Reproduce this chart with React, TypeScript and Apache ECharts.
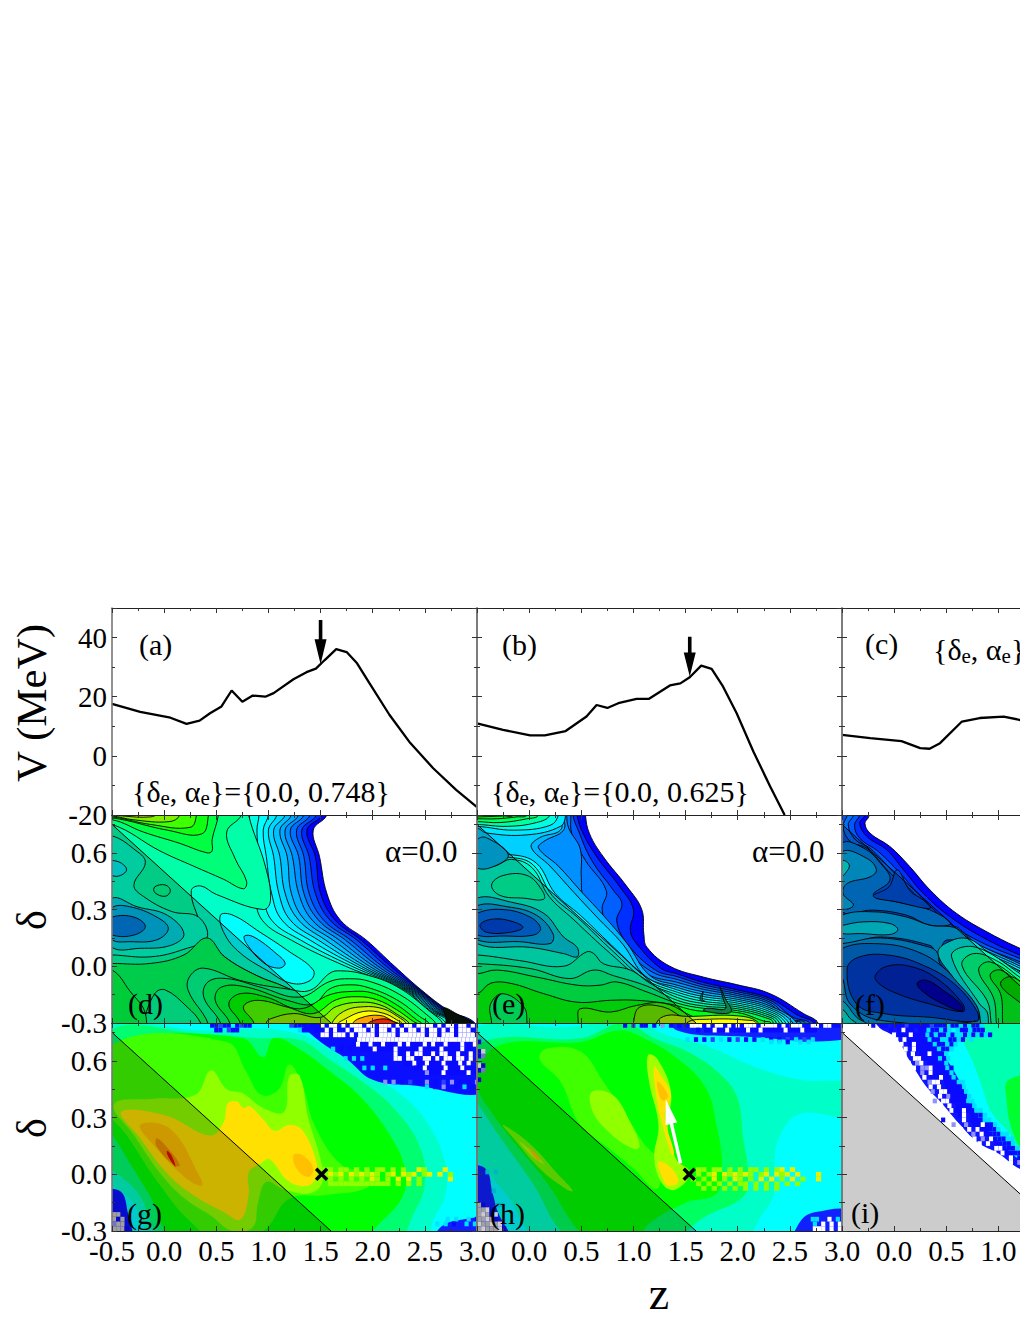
import React, { useEffect, useRef } from "react";
import * as echarts from "echarts";

const FONT = '"Liberation Serif"';
const zTicks = { min: -0.5, max: 3, interval: 0.5 };
const vTicks = { min: -20, max: 50, interval: 20 };
const dTicks = { min: -0.3, max: 0.8, interval: 0.3 };

// (a)-(c) V(z) curves [z, V]
const curveA = [[-0.5,17.6],[-0.23,14.9],[0.06,12.9],[0.215,10.8],[0.34,11.9],[0.44,14.4],[0.55,16.7],[0.647,22.1],[0.75,18.3],[0.85,20.4],[0.97,20],[1.05,21.2],[1.24,25.9],[1.365,28.3],[1.455,29.5],[1.54,32.4],[1.65,36.1],[1.75,35.1],[1.85,31.3],[1.97,24.5],[2.16,13.9],[2.35,4.8],[2.58,-4.2],[2.8,-11.5],[3,-17.3]];
const curveB = [[-0.5,11],[-0.25,8.8],[0.01,6.9],[0.15,6.9],[0.35,8.4],[0.55,13.3],[0.647,17.2],[0.75,16.2],[0.855,17.8],[1.03,19.3],[1.15,19.3],[1.35,23.8],[1.45,24.5],[1.54,26.6],[1.65,30.5],[1.75,29.4],[1.86,23.4],[1.99,14.4],[2.15,1.5],[2.31,-10.3],[2.45,-20]];
const curveC = [[-0.5,7.1],[-0.23,6],[0.07,5],[0.25,2.6],[0.34,2.4],[0.44,4.3],[0.65,11.6],[0.82,12.8],[1.05,13.3],[1.2,12.2],[1.4,10]];
// arrows: z, V top of shaft, V tip
const arrowA = [1.5, 45.9, 31];
const arrowB = [1.54, 40.3, 26.8];
// white arrow in (h): tail z, tail delta, tip z, tip delta
const arrowH = [1.452, 0.058, 1.31, 0.396];
const crossG = [1.51, 0];
const crossH = [1.535, 0];
// line delta = 0.5 - 0.5 z, ends
const diagonal = [-0.5, 0.75, 1.6, -0.3];

// ---- panel (d) ----
const dBandDeltas = [0.8,0.72,0.58,0.386,0.244,0.138,0,-0.127,-0.234,-0.3];
const dBandColors = ["#0000ff","#0028ff","#0050ff","#0070ff","#0090ff","#00a8ff","#00c0ff","#00d8ff","#00f0ff","#00ffff","#00ffe0","#00ffc8"];
const dBands = [
  [1.56,1.43,1.49,1.56,1.69,1.94,2.21,2.47,2.73,2.98],
  [1.51,1.37,1.45,1.5,1.64,1.89,2.17,2.455,2.71,2.95],
  [1.46,1.32,1.39,1.45,1.59,1.85,2.13,2.44,2.69,2.93],
  [1.4,1.27,1.34,1.39,1.53,1.79,2.09,2.425,2.675,2.91],
  [1.34,1.21,1.29,1.34,1.48,1.74,2.05,2.41,2.655,2.88],
  [1.29,1.16,1.23,1.29,1.42,1.68,2.01,2.395,2.64,2.86],
  [1.22,1.11,1.18,1.22,1.35,1.62,1.97,2.38,2.62,2.84],
  [1.16,1.05,1.11,1.16,1.29,1.55,1.93,2.365,2.6,2.82],
  [1.08,1,1.05,1.1,1.21,1.48,1.89,2.35,2.585,2.8],
  [1,0.95,0.98,1.03,1.13,1.4,1.85,2.335,2.57,2.78],
  [0.91,0.89,0.91,0.95,1.03,1.31,1.8,2.32,2.55,2.75],
  [0.82,0.81,0.84,0.87,0.94,1.22,1.74,2.305,2.535,2.7],
];
const dBody = [0.81,0.9,0.81,0.8,0.97,0.53,1.02,0.35,0.95,0.3,0.5,0.38,0.35,0.425,0.26,0.4,0.33,0.25,0.41,0.15,0.58,0.05,0.89,-0.05,1.16,-0.11,1.37,-0.18,1.46,-0.36,-0.7,-0.36,-0.7,0.9];
const dTopHill = [
  ["#00ff78",[0.74,0.8,0.6,0.71,0.68,0.57,0.79,0.45,0.76,0.41,0.57,0.46,0.28,0.53,-0.04,0.61,-0.5,0.75]],
  ["#00ff40",[0.52,0.8,0.46,0.67,0.46,0.61,0.41,0.6,0.15,0.65,-0.2,0.71,-0.5,0.775]],
  ["#10ff10",[0.425,0.8,0.36,0.7,0.03,0.72,-0.5,0.785]],
  ["#40ff00",[0.31,0.8,0.25,0.735,-0.13,0.75,-0.5,0.79]],
  ["#80f000",[0.15,0.8,0.05,0.765,-0.3,0.775,-0.5,0.795]],
  ["#b0d800",[-0.07,0.81,-0.13,0.79,-0.4,0.795,-0.6,0.81]],
];
const dLeft = [
  ["#00ffc8",[-0.5,0.69,-0.29,0.62,-0.18,0.55,-0.29,0.43,-0.2,0.37,0.07,0.29,0.33,0.26,0.41,0.15,0.19,0.09,-0.13,0.05,-0.5,0.06,-0.7,0.06,-0.7,0.69]],
  ["#00ff90",[-0.09,0.42,0.01,0.43,0.06,0.4,0.01,0.37,-0.09,0.39]],
  ["#00f0f0",[-0.6,0.56,-0.5,0.56,-0.41,0.545,-0.36,0.51,-0.42,0.48,-0.5,0.48,-0.6,0.52]],
  ["#00d8e0",[-0.5,0.36,-0.26,0.315,0.03,0.27,0.19,0.17,0.06,0.11,-0.23,0.095,-0.5,0.1,-0.6,0.23]],
  ["#00b8e8",[-0.5,0.31,-0.33,0.315,-0.07,0.26,0.04,0.2,-0.07,0.14,-0.33,0.13,-0.5,0.14,-0.6,0.22]],
  ["#0080e0",[-0.5,0.26,-0.29,0.26,-0.18,0.21,-0.29,0.165,-0.5,0.165,-0.6,0.21]],
];
const dValley = [
  ["#00ffff",[0.54,0.27,0.66,0.27,0.92,0.18,1.18,0.085,1.43,-0.02,1.4,-0.075,1.22,-0.09,0.98,-0.02,0.73,0.07,0.58,0.17]],
  ["#00d0ff",[0.77,0.16,0.86,0.155,1.08,0.065,1.16,0.015,1.1,-0.01,0.95,0.02,0.79,0.12]],
];
const dBottom = [
  ["#00ff60",[-0.5,0.015,-0.13,0.015,0.19,0.06,0.41,0.15,0.58,0.05,0.89,-0.05,1.16,-0.11,1.37,-0.18,1.46,-0.36,-0.7,-0.36,-0.7,0.015]],
  ["#00ff98",[-0.2,-0.36,-0.2,-0.3,-0.09,-0.145,0.01,-0.125,0.22,-0.215,0.35,-0.3,0.35,-0.36]],
  ["#00ff48",[-0.5,-0.02,-0.33,-0.13,-0.18,-0.25,-0.22,-0.36,-0.7,-0.36,-0.7,-0.02]],
];
const dHills = [
  ["#00ff90",[0.42,-0.3,0.23,-0.127,0.25,-0.05,0.38,-0.01,0.73,-0.075,1.18,-0.12,1.4,-0.127,1.59,-0.036,1.69,-0.024,1.91,-0.041,2.23,-0.107,2.55,-0.239,2.68,-0.31]],
  ["#00ff60",[0.54,-0.3,0.38,-0.163,0.42,-0.083,0.6,-0.065,0.92,-0.11,1.3,-0.163,1.59,-0.08,1.78,-0.066,1.97,-0.08,2.26,-0.15,2.52,-0.257,2.61,-0.31]],
  ["#00ff38",[0.63,-0.3,0.49,-0.18,0.55,-0.11,0.79,-0.11,1.18,-0.18,1.43,-0.2,1.59,-0.119,1.78,-0.098,1.97,-0.115,2.23,-0.177,2.45,-0.266,2.55,-0.31]],
  ["#00ff00",[0.73,-0.3,0.62,-0.2,0.73,-0.145,0.98,-0.163,1.3,-0.225,1.59,-0.15,1.81,-0.133,2,-0.142,2.23,-0.204,2.42,-0.283,2.48,-0.31]],
  ["#50ff00",[0.86,-0.3,0.76,-0.216,0.89,-0.18,1.18,-0.216,1.43,-0.25,1.65,-0.177,1.85,-0.161,2.04,-0.177,2.23,-0.23,2.39,-0.292,2.44,-0.31]],
  ["#90f000",[0.98,-0.3,1.02,-0.278,1.24,-0.25,1.5,-0.27,1.65,-0.213,1.88,-0.19,2.07,-0.204,2.23,-0.253,2.36,-0.31]],
  ["#d0f000",[1.6,-0.31,1.72,-0.239,1.91,-0.214,2.1,-0.225,2.24,-0.266,2.33,-0.31]],
  ["#ffff00",[1.66,-0.31,1.72,-0.283,1.91,-0.239,2.1,-0.248,2.23,-0.283,2.29,-0.31]],
  ["#ffa000",[1.8,-0.31,1.88,-0.274,2.07,-0.26,2.2,-0.292,2.26,-0.31]],
  ["#f02000",[1.94,-0.31,2.1,-0.278,2.23,-0.3,2.26,-0.31]],
];
const dTip = [
  ["#061008",[2.68,-0.22,2.8,-0.25,2.97,-0.31,2.72,-0.32,2.7,-0.27]],
];

// ---- panel (e) ----
const eBands = [
  ["#0000ff",[0.54,0.8,0.58,0.7,0.71,0.58,0.94,0.42,1.08,0.3,1.1,0.17,1.13,0.1,1.35,0,1.67,-0.057,1.99,-0.097,2.31,-0.145,2.63,-0.25,2.77,-0.3]],
  ["#0030ff",[0.46,0.8,0.52,0.7,0.66,0.57,0.87,0.42,1,0.3,0.97,0.19,1.03,0.12,1.26,-0.01,1.42,-0.04,1.67,-0.085,2,-0.125,2.31,-0.17,2.58,-0.26,2.73,-0.3]],
  ["#0060ff",[0.42,0.8,0.47,0.72,0.6,0.56,0.81,0.4,0.89,0.33,0.84,0.24,0.94,0.12,1.21,-0.02,1.42,-0.055,1.67,-0.098,2,-0.135,2.31,-0.18,2.53,-0.27,2.69,-0.3]],
  ["#0078ff",[0.4,0.8,0.41,0.7,0.54,0.56,0.74,0.4,0.7,0.3,0.78,0.17,0.89,0.1,1.18,-0.03,1.42,-0.07,1.67,-0.11,2,-0.145,2.31,-0.19,2.5,-0.278,2.65,-0.3]],
  ["#0090ff",[0.36,0.8,0.38,0.73,0.49,0.62,0.5,0.47,0.52,0.37,0.68,0.235,0.86,0.1,1.13,-0.04,1.42,-0.085,1.67,-0.122,2,-0.155,2.31,-0.2,2.47,-0.287,2.61,-0.3]],
  ["#00b4ff",[0.33,0.8,0.33,0.72,0.14,0.66,0.09,0.625,0.28,0.53,0.5,0.395,0.71,0.27,0.94,0.12,1.16,-0.05,1.42,-0.1,1.67,-0.135,2,-0.165,2.31,-0.21,2.57,-0.3]],
  ["#00d0ff",[0.31,0.8,0.3,0.72,0.1,0.68,0.02,0.63,0.2,0.53,0.43,0.39,0.65,0.26,0.9,0.115,1.12,-0.055,1.42,-0.112,1.67,-0.148,2,-0.175,2.31,-0.22,2.53,-0.3]],
];
const eBody = [
  ["#00ffff",[-0.18,0.59,0.07,0.545,0.25,0.385,0.49,0.27,0.84,0.085,1.13,-0.06,1.42,-0.125,1.67,-0.16,2,-0.185,2.31,-0.23,2.49,-0.3]],
  ["#00ffe0",[-0.17,0.575,0.04,0.535,0.22,0.375,0.46,0.26,0.81,0.076,1.11,-0.068,1.42,-0.137,1.67,-0.172,2,-0.195,2.31,-0.24,2.46,-0.3]],
  ["#00f8c8",[-0.5,0.52,-0.33,0.53,-0.17,0.565,0.03,0.52,0.19,0.37,0.42,0.25,0.78,0.067,1.1,-0.076,1.42,-0.15,1.67,-0.185,2,-0.205,2.31,-0.25,2.43,-0.3]],
  ["#00f8a8",[-0.5,0.06,-0.09,0.03,0.33,0,0.55,0.076,0.62,0.067,0.71,0.014,0.97,-0.02,1.16,-0.09,1.42,-0.165,1.67,-0.197,2,-0.215,2.31,-0.26,2.4,-0.3]],
  ["#00f880",[-0.5,0.014,0.01,-0.012,0.39,-0.065,0.62,-0.02,0.81,-0.05,1.13,-0.105,1.42,-0.18,1.67,-0.21,2,-0.225,2.31,-0.27,2.37,-0.3]],
  ["#00ff50",[-0.5,-0.04,-0.31,-0.02,0.07,-0.057,0.46,-0.1,0.68,-0.1,0.84,-0.083,1.13,-0.136,1.42,-0.195,1.67,-0.222,2,-0.235,2.31,-0.28,2.34,-0.3]],
  ["#00ff10",[-0.5,-0.145,-0.37,-0.09,-0.18,-0.09,0.14,-0.145,0.46,-0.19,0.78,-0.18,1.03,-0.18,1.35,-0.2,1.61,-0.235,2,-0.245,2.25,-0.29,2.32,-0.3]],
];
const eIslands = [
  ["#00b8f0",[-0.5,0.67,-0.41,0.68,-0.2,0.59,-0.33,0.53,-0.5,0.52,-0.6,0.6]],
  ["#00ffa8",[-0.36,0.43,-0.25,0.48,-0.02,0.48,0.12,0.405,0.14,0.355,-0.05,0.36,-0.28,0.375]],
  ["#00c8d8",[-0.5,0.36,-0.18,0.34,0.14,0.28,0.33,0.155,0.46,0.1,0.46,0.05,0.33,0.067,0.01,0.1,-0.5,0.12,-0.6,0.25]],
  ["#00a0e0",[-0.5,0.32,-0.21,0.315,0.07,0.27,0.23,0.17,0.2,0.12,-0.09,0.13,-0.5,0.14,-0.6,0.23]],
  ["#0070e8",[-0.5,0.28,-0.25,0.3,0.01,0.26,0.11,0.2,0.04,0.165,-0.25,0.16,-0.5,0.165,-0.6,0.22]],
  ["#0048d8",[-0.47,0.22,-0.34,0.25,-0.15,0.235,-0.06,0.205,-0.18,0.18,-0.41,0.18]],
  ["#00ff68",[-0.36,-0.36,-0.36,-0.3,-0.37,-0.2,-0.25,-0.145,-0.05,-0.216,-0.02,-0.3,-0.02,-0.36]],
  ["#108048",[1.67,-0.235,1.88,-0.25,1.94,-0.235,1.88,-0.17,1.83,-0.11,1.86,-0.17,1.88,-0.225,1.7,-0.222]],
  ["#008870",[1.67,-0.133,1.64,-0.177,1.69,-0.186,1.66,-0.175]],
];
const eTopStripes = [
  ["#00e8ff",[0.35,0.8,0.3,0.74,-0.02,0.695,-0.41,0.705,-0.5,0.73]],
  ["#00ffe0",[0.28,0.8,0.2,0.745,-0.15,0.72,-0.5,0.74]],
  ["#00ffa0",[0.2,0.8,0.07,0.76,-0.21,0.74,-0.5,0.75]],
  ["#00ff60",[0.09,0.8,-0.02,0.78,-0.28,0.76,-0.5,0.765]],
  ["#00ff20",[-0.02,0.8,-0.12,0.79,-0.31,0.78,-0.5,0.78]],
  ["#60ff00",[-0.15,0.8,-0.25,0.795,-0.5,0.79]],
];
const eHills = [
  ["#30ff00",[0.47,-0.3,0.49,-0.225,0.78,-0.242,1.03,-0.207,1.29,-0.195,1.51,-0.25,1.64,-0.3]],
  ["#70e800",[1,-0.3,1.06,-0.216,1.29,-0.216,1.48,-0.27,1.73,-0.3]],
  ["#b0f000",[1.22,-0.3,1.32,-0.26,1.51,-0.265,2,-0.262,2.2,-0.3]],
  ["#ffff00",[1.51,-0.3,1.73,-0.28,2.09,-0.285,2.18,-0.3]],
];

// ---- panel (f) ----
const fBands = [
  ["#0000ff",[-0.22,0.9,-0.24,0.795,-0.28,0.756,-0.23,0.703,-0.04,0.633,0.15,0.527,0.345,0.403,0.6,0.279,0.92,0.173,1.21,0.094,1.6,0,2.1,-0.15,2.6,-0.3]],
  ["#0030ff",[-0.28,0.9,-0.28,0.8,-0.33,0.756,-0.26,0.686,-0.07,0.615,0.09,0.51,0.28,0.385,0.54,0.26,0.86,0.15,1.21,0.058,1.6,-0.03,2.1,-0.18,2.55,-0.3]],
  ["#0058ff",[-0.33,0.9,-0.33,0.8,-0.38,0.747,-0.33,0.677,-0.15,0.606,0.06,0.49,0.23,0.385,0.49,0.244,0.81,0.134,1.21,0.04,1.6,-0.05,2.1,-0.2,2.5,-0.3]],
  ["#0070f8",[-0.39,0.9,-0.39,0.8,-0.44,0.747,-0.37,0.668,-0.23,0.624,-0.01,0.5,0.19,0.385,0.44,0.235,0.76,0.124,1.21,0.023,1.6,-0.07,2.1,-0.22,2.45,-0.3]],
];
const fWedges = [
  ["#00a8ff",[0.55,0.2,0.8,0.118,1.21,0.012,1.7,-0.12,2.4,-0.36,0.3,-0.36]],
  ["#00ccff",[0.6,0.16,0.85,0.09,1.21,0,1.7,-0.14,2.3,-0.36,0.4,-0.36]],
  ["#00f0ff",[0.65,0.13,0.88,0.07,1.21,-0.012,1.7,-0.16,2.2,-0.36,0.5,-0.36]],
  ["#00ffd8",[0.7,0.11,0.9,0.05,1.21,-0.025,1.7,-0.18,2.1,-0.36,0.6,-0.36]],
];
const fBody = [-0.45,0.9,-0.45,0.8,-0.49,0.74,-0.42,0.66,-0.26,0.624,-0.05,0.5,0.15,0.394,0.38,0.253,0.62,0.173,0.6,0.17,0.5,-0.36,-0.7,-0.36,-0.7,0.9];
const fValleys = [
  ["#0080e0",[-0.5,0.65,-0.29,0.624,-0.13,0.544,-0.04,0.456,-0.2,0.376,0.03,0.34,0.345,0.297,0.54,0.226,0.345,0.217,0.12,0.27,-0.2,0.297,-0.5,0.288,-0.6,0.45]],
  ["#00a8e8",[-0.5,0.606,-0.26,0.57,-0.17,0.51,-0.23,0.473,-0.45,0.438,-0.49,0.385,-0.39,0.323,-0.5,0.306,-0.6,0.45]],
  ["#00e8e0",[-0.5,0.56,-0.43,0.535,-0.47,0.49,-0.5,0.48,-0.6,0.52]],
  ["#0050d8",[-0.2,0.37,-0.05,0.42,0.03,0.51,0.15,0.4,0.28,0.35,0.345,0.306,0.03,0.34]],
  ["#00a0e0",[-0.5,0.27,-0.2,0.288,0.12,0.26,0.345,0.217,0.6,0.2,0.73,0.12,0.5,0.138,0.42,0.067,0.345,0.11,-0.13,0.155,-0.5,0.12,-0.6,0.2]],
  ["#00d0e0",[-0.49,0.217,-0.29,0.235,-0.04,0.226,0.035,0.194,-0.04,0.168,-0.33,0.173,-0.5,0.173,-0.6,0.2]],
  ["#0090d8",[-0.5,0.12,-0.13,0.15,0.345,0.1,0.42,0.067,0.44,0.014,0.82,-0.216,0.89,-0.3,0.9,-0.36,-0.7,-0.36,-0.7,0.12]],
  ["#0070d0",[-0.5,0.094,-0.2,0.12,0.185,0.085,0.5,-0.02,0.79,-0.207,0.79,-0.29,-0.13,-0.286,-0.42,-0.2,-0.5,-0.057,-0.6,0.02]],
  ["#0040c8",[-0.45,-0.012,-0.33,0.05,-0.04,0.058,0.28,0.005,0.57,-0.09,0.79,-0.233,0.79,-0.29,0.345,-0.27,-0.1,-0.25,-0.36,-0.2]],
  ["#0028b8",[-0.18,-0.048,-0.07,0,0.15,0,0.41,-0.065,0.66,-0.2,0.66,-0.24,0.345,-0.2,0.03,-0.145,-0.15,-0.09]],
  ["#0000b0",[0.22,-0.09,0.31,-0.074,0.47,-0.127,0.65,-0.207,0.65,-0.237,0.47,-0.2,0.28,-0.136]],
  ["#00b8d0",[-0.5,-0.18,-0.36,-0.27,-0.26,-0.31,-0.6,-0.36,-0.6,-0.18]],
  ["#00e0c8",[-0.5,-0.233,-0.42,-0.277,-0.36,-0.31,-0.6,-0.36]],
];
const fHills = [
  ["#00e0d8",[0.42,0.067,0.49,0.12,0.7,0.147,0.92,0.067,1.21,-0.03,1.7,-0.19,2.05,-0.36,0.9,-0.36,0.79,-0.207,0.54,-0.04]],
  ["#00ffb8",[0.55,0.05,0.66,0.102,0.86,0.085,1.21,-0.04,1.7,-0.21,2,-0.36,0.95,-0.36,0.89,-0.24,0.82,-0.2]],
  ["#00ff88",[0.65,0.005,0.76,0.067,0.98,0.03,1.21,-0.06,1.7,-0.24,1.9,-0.36,1,-0.36,0.89,-0.18]],
  ["#00ff50",[0.81,-0.02,0.92,0.023,1.21,-0.08,1.6,-0.26,1.8,-0.36,1.05,-0.36,0.95,-0.163]],
  ["#00f020",[0.92,-0.048,1.02,-0.02,1.21,-0.1,1.5,-0.26,1.65,-0.36,1.1,-0.36,1.02,-0.145]],
  ["#00d800",[1.02,-0.09,1.13,-0.056,1.3,-0.14,1.4,-0.25,1.13,-0.16]],
];

// ---- panel (g) smooth colour regions ----
const gLayers = [
  ["#00ffff",[-1,1,4,1,4,-1,-1,-1]],
  ["#00ffc8",[-0.6,0.76,0.4,0.76,0.95,0.77,1.3,0.74,1.6,0.66,1.95,0.53,2.3,0.41,2.55,0.25,2.7,0.05,2.7,-0.1,2.6,-0.22,2.45,-0.36,-0.05,-0.36,-0.3,-0.15,-0.6,0.03]],
  ["#00ff70",[-0.55,0.74,0.4,0.74,0.9,0.72,1.3,0.71,1.58,0.61,1.9,0.49,2.2,0.35,2.45,0.15,2.5,-0.05,2.4,-0.2,2.2,-0.36,0.05,-0.36,-0.25,-0.1,-0.6,0.12]],
  ["#00ff00",[-0.35,0.72,0.75,0.72,0.95,0.62,1.05,0.72,1.3,0.66,1.6,0.54,1.9,0.4,2.15,0.22,2.3,0.05,2.3,-0.1,2.1,-0.24,1.8,-0.36,0.15,-0.36,-0.15,-0.1,-0.45,0.17,-0.6,0.3,-0.55,0.6]],
  ["#40ff00",[-0.45,0.7,0.6,0.7,0.78,0.55,0.93,0.42,1.1,0.45,1.2,0.58,1.32,0.48,1.45,0.25,1.7,0.05,1.95,0,1.95,-0.07,1.55,-0.11,1.2,-0.13,0.95,-0.3,0.55,-0.36,0.25,-0.25,-0.05,-0.05,-0.35,0.2,-0.6,0.4]],
  ["#90ff00",[-0.48,0.37,-0.1,0.4,0.3,0.42,0.45,0.55,0.6,0.45,0.75,0.43,0.95,0.35,1.15,0.33,1.2,0.52,1.3,0.52,1.38,0.3,1.5,0.08,1.52,-0.04,1.4,-0.1,1.15,-0.08,0.98,-0.04,0.9,-0.15,0.85,-0.28,0.65,-0.3,0.45,-0.22,0.2,-0.13,-0.03,0,-0.28,0.2]],
  ["#ffe000",[-0.41,0.33,0.02,0.31,0.44,0.205,0.57,0.275,0.61,0.375,0.7,0.385,0.76,0.35,0.82,0.36,0.95,0.29,1.06,0.23,1.2,0.26,1.33,0.23,1.46,0.065,1.46,-0.01,1.38,-0.06,1.2,-0.04,1.01,0.08,0.92,0.055,0.81,0.01,0.81,-0.11,0.73,-0.24,0.57,-0.2,0.28,-0.11,0.02,0.01,-0.23,0.19]],
  ["#ffc000",[-0.23,0.26,0.06,0.24,0.34,-0.01,0.36,-0.06,0.22,-0.025,-0.07,0.135]],
  ["#ffc000",[1.24,0.1,1.33,0.1,1.43,0.03,1.38,-0.015,1.27,0.03]],
  ["#f09000",[-0.07,0.19,0.04,0.135,0.15,0.05,0.1,0.045,-0.07,0.145]],
  ["#e01000",[0.03,0.125,0.07,0.1,0.11,0.04,0.09,0.05,0.03,0.105]],
  ["#0a10ff",[1.25,0.85,1.3,0.8,1.5,0.7,1.75,0.61,2,0.5,2.4,0.47,3.1,0.45,3.1,0.85]],
  ["#0a10ff",[-0.6,-0.1,-0.42,-0.09,-0.35,-0.2,-0.32,-0.36,-0.6,-0.36]],
  ["#1020ff",[2.6,-0.36,2.65,-0.28,2.85,-0.24,3.1,-0.24,3.1,-0.36]],
];
// noise rows: [delta, first z, cells]; . = nothing, b blue, m mid blue, p pale blue, w white, c cyan, g grey, y yellow, l lime
const gCells = [
  [0.7875,0.44,"bbmbb.bmbb"],[0.7625,0.48,"bb.mbb"],
  [0.7875,1.2,"mbbb.bbb"],[0.7625,1.28,"cbb.bb"],
  [0.7875,1.5,"wbwwbwbwwwbwwbwwwbwbwwbwwwwbwbwwbwwbw"],
  [0.7625,1.5,"bwbwbbwbwwwbwbwwbwbwbwwbwbwwbwbwbwwwb"],
  [0.7375,1.5,"wwbwwwbwbwwwwbwwwwbwwwwwwbwwbwwwbwwww"],
  [0.7125,1.85,"wwwwwwwwwwwwwwwwwwwwwwwwwwwwww"],
  [0.6875,1.8,"bwbbwbbwbbbwbwbbbwbwbbwbbbwbbw"],
  [0.6625,1.6,"c.b.b..bbbwbbbbwbbbbbwbbbbwbbbbwbb"],
  [0.6375,2.2,"wbbwbwwbbwbwwbbwbbw"],[0.6125,2.2,"wwbwwbbwwbwbwwbwwbw"],
  [0.5875,2.3,"bbwbbwbbbwbbbwbw"],[0.5625,2.4,"bbwbbbbwbbbwbbb"],[0.5375,2.5,"pbbbwbbbbbwbb"],
  [0.6125,1.72,"c.c.c"],[0.5625,1.9,"c.c..c"],[0.4875,2.1,"p.p.b.m.b.p.b.m.p.b.b.p.b.m"],[0.4625,2.5,"c.b.p..b.c.b.c"],
  [-0.2125,-0.5,"gg"],[-0.2375,-0.5,"gbg"],[-0.2625,-0.5,"pgg"],[-0.2875,-0.5,"gggb"],
  [-0.2375,2.7,"c.c..c.b.b"],[-0.2625,2.6,"c.c.b..c.c.c..c"],
];
const gChecks = [
  [0.025,1.52,"ll.ll.l.l.ll.l.l..yl...y."],
  [0,1.52,"lyly.ylylyl.ly.yly.ly.y.l"],
  [-0.025,1.52,".l.l.l.l.yl.l.y.y.l.....y"],
  [-0.05,1.52,".llllllllllll.l.l.l.."],
];

// ---- panel (h) ----
const hLayers = [
  ["#00ffff",[-1,1,4,1,4,-1,-1,-1]],
  ["#00ffc8",[-0.6,0.74,0.4,0.78,1,0.82,1.3,0.74,1.7,0.68,2.2,0.56,2.6,0.5,3.1,0.47,3.1,0.31,2.6,0.32,2.4,0.2,2.35,0.05,2.35,-0.1,2.25,-0.2,2,-0.36,0.15,-0.36,-0.2,-0.12,-0.6,0.2]],
  ["#00ff60",[-0.45,0.7,0.5,0.72,0.9,0.8,1.2,0.72,1.55,0.64,1.85,0.52,2,0.4,2.05,0.2,2.1,0,2.05,-0.12,1.7,-0.22,1.3,-0.36,0.45,-0.36,0,-0.02,-0.44,0.33,-0.6,0.5]],
  ["#00ff00",[-0.3,0.68,0.5,0.7,0.85,0.76,1.1,0.72,1.45,0.6,1.7,0.45,1.8,0.25,1.85,0.05,1.8,-0.1,1.5,-0.15,1.15,-0.26,1,-0.36,0.6,-0.36,0.15,-0.03,-0.35,0.32,-0.5,0.5]],
  ["#40ff00",[0.17,0.665,0.49,0.65,0.71,0.49,0.93,0.31,1.09,0.17,1.25,0.06,1.22,-0.08,1,0.03,0.77,0.135,0.49,0.26,0.3,0.49,0.1,0.61]],
  ["#90ff00",[0.6,0.435,0.8,0.42,0.97,0.275,1.06,0.15,1,0.135,0.77,0.22,0.61,0.33]],
  ["#a0ff00",[1.14,0.63,1.23,0.61,1.36,0.435,1.33,0.24,1.41,0.08,1.54,0.01,1.41,-0.08,1.29,-0.06,1.2,0.08,1.24,0.26,1.15,0.49]],
  ["#ffe000",[1.2,0.57,1.26,0.525,1.36,0.42,1.3,0.31,1.39,0.115,1.37,0.1,1.26,0.3,1.21,0.45]],
  ["#ffe000",[1.24,0.065,1.35,0.04,1.43,-0.04,1.33,-0.06,1.27,-0.007]],
  ["#ffc000",[1.23,0.49,1.3,0.45,1.33,0.41,1.28,0.39,1.24,0.435]],
  ["#70ff00",[-0.25,0.26,0.01,0.16,0.26,0.01,0.42,-0.087,0.36,-0.08,0.1,0.03,-0.15,0.19]],
  ["#b0ff00",[-0.09,0.17,0.07,0.1,0.14,0.055,0.04,0.09]],
  ["#ffc000",[0,0.14,0.1,0.085,0.09,0.07,0.01,0.125]],
  ["#1020ff",[1.35,0.85,1.42,0.76,2,0.73,3.1,0.72,3.1,0.85]],
  ["#1020ff",[-0.6,0.03,-0.42,0.03,-0.35,-0.1,-0.3,-0.2,-0.18,-0.36,-0.6,-0.36]],
  ["#1020ff",[2.55,-0.36,2.6,-0.25,2.75,-0.2,3.1,-0.2,3.1,-0.36]],
];
const hCells = [
  [0.7875,0.9,"b.m.bb.b.p.b.b"],[0.7875,1.5,"bwwwbwbwwbwbwbwwwbwwwwbwbwwwbbwwbwwbb"],[0.7625,1.6,"b.bbwbbwbbbbwbbwbbbbbwbbbwbbb"],
  [0.7125,1.5,"c.b.b.m.c.b.m.b.b.c.b.b.m.c.m.c"],[0.7,2.3,"c.c.b..c.c"],
  [0.7,-0.5,"b"],[0.65,-0.5,"bw"],[0.625,-0.5,"bp"],[0.575,-0.5,"wb"],[0.55,-0.5,"bp"],[0.5,-0.5,"b"],
  [0.0125,-0.42,"c.c"],[-0.0875,-0.36,"c"],[-0.1625,-0.32,"cc"],
  [-0.1625,-0.5,"gb"],[-0.1875,-0.5,"ggwb"],[-0.2125,-0.5,"gwgbw"],[-0.2375,-0.5,"ggwgb"],[-0.2625,-0.5,"wggwgw"],[-0.2875,-0.5,"gwgggwb"],
  [-0.2375,2.7,"cc..w.c.c"],[-0.2625,2.72,"c.w.w.w"],[-0.2875,2.72,"www.w.wb"],
];
const hChecks = [
  [0.025,1.6,"ll.ll.l.l.ll.l.ly.y.."],
  [0,1.6,"l.ly.ylylyl.ly.yly.y...y"],
  [-0.025,1.55,"l.l.y.l.yl.l.y.y.l.y.l..y"],
  [-0.05,1.55,".l.l.l.l.ll.l.l.l.l.l"],
  [-0.075,1.55,"..l.l.l.l.l.l.l.l"],
];

// ---- panel (i) ----
const iLayers = [
  ["#0e14ff",[-0.2,0.85,-0.15,0.78,0.02,0.72,0.15,0.6,0.3,0.47,0.45,0.38,0.62,0.27,0.8,0.17,1,0.11,1.2,0.03,1.5,-0.03,1.5,0.85]],
  ["#00ffff",[0.35,0.85,0.35,0.78,0.44,0.67,0.63,0.49,0.73,0.365,0.89,0.24,1.05,0.15,1.2,0.08,1.5,0,1.5,0.85]],
  ["#00ffb0",[0.66,0.85,0.66,0.72,0.75,0.6,0.85,0.45,0.93,0.33,1.1,0.22,1.2,0.14,1.5,0.05,1.5,0.85]],
  ["#00ff30",[1.1,0.5,1.08,0.38,1.14,0.22,1.25,0.12,1.5,0.05,1.5,0.5]],
];
const iCells = [
  [0.7875,-0.22,"b.bb.bbbmbbbbbmbbbcbbcbcbbc"],[0.7625,-0.05,"b.bwbb.bbcbbcbc.cbbcbbb"],
  [0.7375,-0.02,"wbbbwbbbcbcbbcbccbcbcbcb"],[0.7125,0,"w.wbbbbbcbbccbbcb.c"],
  [0.6875,0.05,"w.bwbbbbcbbcbc"],[0.6625,0.05,".w.wbbbbbcbbc"],
  [0.6375,0.08,"w.w.bbwbbbc"],[0.6125,0.1,"..wwbbbbcbc"],
  [0.5875,0.12,"w.pw.bbbbc"],[0.5625,0.17,"w.ppwbbbcb"],
  [0.5375,0.17,"..p.wbbbbc"],[0.5125,0.19,"w.w.bbwbbc"],
  [0.4875,0.2,"...pww.bbbcc"],[0.4625,0.25,"..w.w.bbbbc"],
  [0.4375,0.27,"..p.wwbbbbc"],[0.4125,0.3,"w..w.pbbbbc"],
  [0.3875,0.37,"p.wwbbbbcc"],[0.3625,0.35,"..w.w.bbbbc"],
  [0.3375,0.45,"w.wbbwbbcc"],[0.3125,0.45,".w..bw.bbbc"],
  [0.2875,0.45,"b.w..w.bbbcc"],[0.2625,0.55,"p..p.bbwbbc"],
  [0.2375,0.62,"w.w.wbbbbc"],[0.2125,0.66,"..p.wbbbbcc"],
  [0.1875,0.75,"w.p.wbbbcc"],[0.1625,0.8,"w.w.bbbbc"],
  [0.1375,0.88,"..wwbbbcc"],[0.1125,0.94,"w.wbbbbc"],
  [0.0875,1.02,"..w.bbbc"],[0.0625,1.1,"w.pbbc"],
];

const NOISE: Record<string, string> = { b:"#0a0aff", m:"#3040ff", p:"#9090ff", w:"#ffffff", c:"#00e0ff", g:"#c8c8c8", y:"#e8f000", l:"#90ff00" };

const bandPolygon = (zs: number[], ds: number[]) => {
  const out: number[] = [zs[0], 0.9];
  zs.forEach((z, i) => out.push(z, ds[i]));
  out.push(zs[zs.length - 1], -0.38, -0.8, -0.38, -0.8, 0.9);
  return out;
};
const closeRight = (a: number[]) => [a[0], 0.9, ...a, a[a.length - 2], -0.38, -0.8, -0.38, -0.8, 0.9];
const closeBelow = (a: number[]) => [...a, a[a.length - 2], -0.38, -0.8, -0.38, -0.8, a[1]];
const dome = (a: number[]) => [a[0], -0.38, ...a, a[a.length - 2], -0.38];
const cap = (a: number[]) => [a[0], 0.9, ...a, -0.8, a[a.length - 1], -0.8, 0.9];

type Layer = [string, number[]];
const dAll: Layer[] = [
  ...dBands.map((b, i) => [dBandColors[i], bandPolygon(b, dBandDeltas)] as Layer),
  ["#00ffa8", dBody],
  ...(dTopHill as Layer[]).map(([c, a]) => [c, cap(a)] as Layer),
  ...(dLeft as Layer[]),
  ...(dValley as Layer[]),
  ...(dBottom as Layer[]),
  ...(dHills as Layer[]).map(([c, a]) => [c, dome(a)] as Layer),
  ...(dTip as Layer[]),
];
const eAll: Layer[] = [
  ...(eBands as Layer[]).map(([c, a]) => [c, closeRight(a)] as Layer),
  ...(eBody as Layer[]).map(([c, a]) => [c, closeBelow(a)] as Layer),
  ...(eIslands as Layer[]),
  ...(eTopStripes as Layer[]).map(([c, a]) => [c, cap(a)] as Layer),
  ...(eHills as Layer[]).map(([c, a]) => [c, dome(a)] as Layer),
];
const fAll: Layer[] = [
  ...(fBands as Layer[]).map(([c, a]) => [c, [...a, a[a.length - 2], -0.38, -0.8, -0.38, -0.8, 0.9]] as Layer),
  ...(fWedges as Layer[]),
  ["#0058e8", fBody],
  ...(fValleys as Layer[]),
  ...(fHills as Layer[]),
];

const XW = 365;
const panelLefts = [112, 477, 842];
const rowTops = [608, 815, 1023];
const rowHeights = [207, 208, 208];

function layerSeries(layers: Layer[], ax: number, stroke: boolean) {
  return {
    type: "custom", xAxisIndex: ax, yAxisIndex: ax, clip: true, silent: true,
    data: layers.map((_, i) => [i]),
    renderItem: (params: any, api: any) => {
      const [color, a] = layers[params.dataIndex];
      const points: number[][] = [];
      for (let k = 0; k < a.length; k += 2) points.push(api.coord([a[k], a[k + 1]]));
      return {
        type: "polygon",
        shape: { points, smooth: 0.4 },
        style: { fill: color, stroke: stroke ? "#000" : "none", lineWidth: stroke ? 0.9 : 0 },
      };
    },
  };
}
function cellSeries(rows: any[], dz: number, dd: number, ax: number) {
  const cells: number[][] = [];
  const colors: string[] = [];
  rows.forEach(([d, z0, s]) => {
    for (let k = 0; k < s.length; k++) {
      if (s[k] !== ".") { cells.push([z0 + k * dz, d]); colors.push(NOISE[s[k]]); }
    }
  });
  return {
    type: "custom", xAxisIndex: ax, yAxisIndex: ax, clip: true, silent: true,
    data: cells,
    renderItem: (params: any, api: any) => {
      const p = api.coord([api.value(0), api.value(1)]);
      const sz = api.size([dz, dd]);
      return { type: "rect", shape: { x: p[0], y: p[1] - sz[1] / 2, width: sz[0], height: sz[1] }, style: { fill: colors[params.dataIndex] } };
    },
  };
}
function diagSeries(ax: number) {
  return {
    type: "custom", xAxisIndex: ax, yAxisIndex: ax, clip: true, silent: true,
    data: [[0]],
    renderItem: (_: any, api: any) => {
      const a = api.coord([diagonal[0], diagonal[1]]);
      const b = api.coord([diagonal[2], diagonal[3]]);
      const c = api.coord([diagonal[0], diagonal[3]]);
      return {
        type: "group",
        children: [
          { type: "polygon", shape: { points: [a, b, c] }, style: { fill: "rgba(0,0,0,0.2)" } },
          { type: "line", shape: { x1: a[0], y1: a[1], x2: b[0], y2: b[1] }, style: { stroke: "#000", lineWidth: 1 } },
        ],
      };
    },
  };
}
function arrowPolygon(tail: number[], tip: number[], headLen: number, headW: number, shaftW: number) {
  const dx = tip[0] - tail[0], dy = tip[1] - tail[1];
  const len = Math.hypot(dx, dy);
  const ux = dx / len, uy = dy / len, nx = -uy, ny = ux;
  const bx = tip[0] - ux * headLen, by = tip[1] - uy * headLen;
  return [
    [tail[0] + nx * shaftW / 2, tail[1] + ny * shaftW / 2],
    [bx + nx * shaftW / 2, by + ny * shaftW / 2],
    [bx + nx * headW / 2, by + ny * headW / 2],
    tip,
    [bx - nx * headW / 2, by - ny * headW / 2],
    [bx - nx * shaftW / 2, by - ny * shaftW / 2],
    [tail[0] - nx * shaftW / 2, tail[1] - ny * shaftW / 2],
  ];
}
function arrowSeries(t: number[], ax: number, color: string, hl: number, hw: number, sw: number) {
  return {
    type: "custom", xAxisIndex: ax, yAxisIndex: ax, clip: true, silent: true,
    data: [[0]],
    renderItem: (_: any, api: any) => ({
      type: "polygon",
      shape: { points: arrowPolygon(api.coord([t[0], t[1]]), api.coord([t[2], t[3]]), hl, hw, sw) },
      style: { fill: color },
    }),
  };
}
function crossSeries(c: number[], ax: number) {
  return {
    type: "custom", xAxisIndex: ax, yAxisIndex: ax, clip: true, silent: true,
    data: [[0]],
    renderItem: (_: any, api: any) => {
      const p = api.coord(c);
      const r = 5.5;
      const st = { stroke: "#000", lineWidth: 3.4 };
      return {
        type: "group",
        children: [
          { type: "line", shape: { x1: p[0] - r, y1: p[1] - r, x2: p[0] + r, y2: p[1] + r }, style: st },
          { type: "line", shape: { x1: p[0] - r, y1: p[1] + r, x2: p[0] + r, y2: p[1] - r }, style: st },
        ],
      };
    },
  };
}
const lineSeries = (data: number[][], ax: number) => ({
  type: "line", xAxisIndex: ax, yAxisIndex: ax, data, showSymbol: false, symbol: "none", clip: true, silent: true,
  lineStyle: { color: "#000", width: 2.3 },
});

const tickText = (v: number) => v.toFixed(1);
// the third column runs past the page: only its ticks up to 1.0 have room for a label
const tickTextClipped = (v: number) => (v <= 1 ? v.toFixed(1) : "");

function buildAxes() {
  const grid: any[] = [], xAxis: any[] = [], yAxis: any[] = [];
  rowTops.forEach((top, r) => {
    panelLefts.forEach((left, c) => {
      const gi = grid.length;
      grid.push({ left, top, width: XW, height: rowHeights[r], outerBoundsMode: "none" });
      const base = {
        gridIndex: gi, type: "value", z: 10, silent: true, splitLine: { show: false },
        axisTick: { show: true, inside: true, length: 5, lineStyle: { color: "#333", width: 1 } },
        minorTick: { show: true, splitNumber: 2, length: 3, lineStyle: { color: "#333", width: 1 } },
      };
      const xLine = { show: true, onZero: false, lineStyle: { color: "#222", width: 1 } };
      const yLine = { show: true, onZero: false, lineStyle: { color: "#777", width: 1.6 } };
      const labelX = { show: r === 2, fontFamily: FONT, fontSize: 29, color: "#000", margin: 5, formatter: c === 2 ? tickTextClipped : tickText, showMinLabel: c === 0, showMaxLabel: c !== 2 };
      xAxis.push({ ...base, ...zTicks, position: "bottom", axisLine: xLine, axisLabel: labelX });
      xAxis.push({ ...base, ...zTicks, position: "top", axisLine: xLine, axisLabel: { show: false } });
      const yr = r === 0 ? vTicks : dTicks;
      const fmt = r === 0 ? (v: number) => String(v) : tickText;
      yAxis.push({ ...base, ...yr, position: "left", axisLine: yLine, axisLabel: { show: c === 0, fontFamily: FONT, fontSize: 29, color: "#000", margin: 5, formatter: fmt, showMinLabel: true, showMaxLabel: false } });
      yAxis.push({ ...base, ...yr, position: "right", axisLine: yLine, axisLabel: { show: false } });
    });
  });
  return { grid, xAxis, yAxis };
}

// Each grid owns two x axes and two y axes: the series use the bottom/left pair
const axisOf = (row: number, col: number) => (row * 3 + col) * 2;

const t = (text: string, x: number, y: number, fontSize = 30, extra: any = {}) => ({
  type: "text", x, y, z: 30, silent: true, ...extra,
  style: { text, fontFamily: FONT, fontSize, fill: "#000", align: extra.align || "left", verticalAlign: "middle" },
});
const subText = (text: string, x: number, y: number) => ({
  type: "text", x, y, z: 30, silent: true,
  style: {
    text, fontFamily: FONT, fontSize: 30, fill: "#000", align: "left", verticalAlign: "middle",
    rich: { s: { fontFamily: FONT, fontSize: 21, fill: "#000", padding: [14, 0, 0, 0] } },
  },
});

export default function App() {
  const ref = useRef<HTMLDivElement>(null);
  useEffect(() => {
    const chart = echarts.init(ref.current!, null, { renderer: "svg", width: 1020, height: 1320 });
    const { grid, xAxis, yAxis } = buildAxes();
    const A = axisOf(0, 0), B = axisOf(0, 1), C = axisOf(0, 2);
    const D = axisOf(1, 0), E = axisOf(1, 1), F = axisOf(1, 2);
    const G = axisOf(2, 0), H = axisOf(2, 1), I = axisOf(2, 2);
    const series: any[] = [
      lineSeries(curveA, A), lineSeries(curveB, B), lineSeries(curveC, C),
      arrowSeries([arrowA[0], arrowA[1], arrowA[0], arrowA[2]], A, "#000", 25, 12, 3.6),
      arrowSeries([arrowB[0], arrowB[1], arrowB[0], arrowB[2]], B, "#000", 24, 12, 3.6),
      layerSeries(dAll, D, true), diagSeries(D),
      layerSeries(eAll, E, true), diagSeries(E),
      layerSeries(fAll, F, true), diagSeries(F),
      layerSeries(gLayers as Layer[], G, false), cellSeries(gCells, 0.04, 0.025, G), cellSeries(gChecks, 0.05, 0.025, G), diagSeries(G), crossSeries(crossG, G),
      layerSeries(hLayers as Layer[], H, false), cellSeries(hCells, 0.04, 0.025, H), cellSeries(hChecks, 0.05, 0.025, H), diagSeries(H), arrowSeries(arrowH, H, "#fff", 25, 12, 3.4), crossSeries(crossH, H),
      layerSeries(iLayers as Layer[], I, false), cellSeries(iCells, 0.04, 0.025, I), diagSeries(I),
    ];
    chart.setOption({
      animation: false,
      backgroundColor: "#fff",
      grid, xAxis, yAxis, series,
      graphic: { elements: [
        t("(a)", 139, 644), t("(b)", 502, 644), t("(c)", 865, 643),
        t("(d)", 128, 1003), t("(e)", 492, 1003), t("(f)", 855, 1004),
        t("(g)", 127, 1213), t("(h)", 490, 1213), t("(i)", 851, 1212),
        subText("{δ{s|e}, α{s|e}}={0.0, 0.748}", 132, 791),
        subText("{δ{s|e}, α{s|e}}={0.0, 0.625}", 491, 791),
        subText("{δ{s|e}, α{s|e}}", 933, 649),
        t("α=0.0", 385, 851, 31), t("α=0.0", 752, 851, 31),
        t("V (MeV)", 31, 703, 43, { rotation: Math.PI / 2, align: "center" }),
        t("δ", 32, 920, 42, { rotation: Math.PI / 2, align: "center" }),
        t("δ", 32, 1128, 42, { rotation: Math.PI / 2, align: "center" }),
        t("z", 659, 1293, 46, { align: "center" }),
      ] },
    });
    return () => chart.dispose();
  }, []);
  return <div ref={ref} style={{ position: "absolute", left: 0, top: 0, width: 1020, height: 1320, overflow: "hidden" }} />;
}
